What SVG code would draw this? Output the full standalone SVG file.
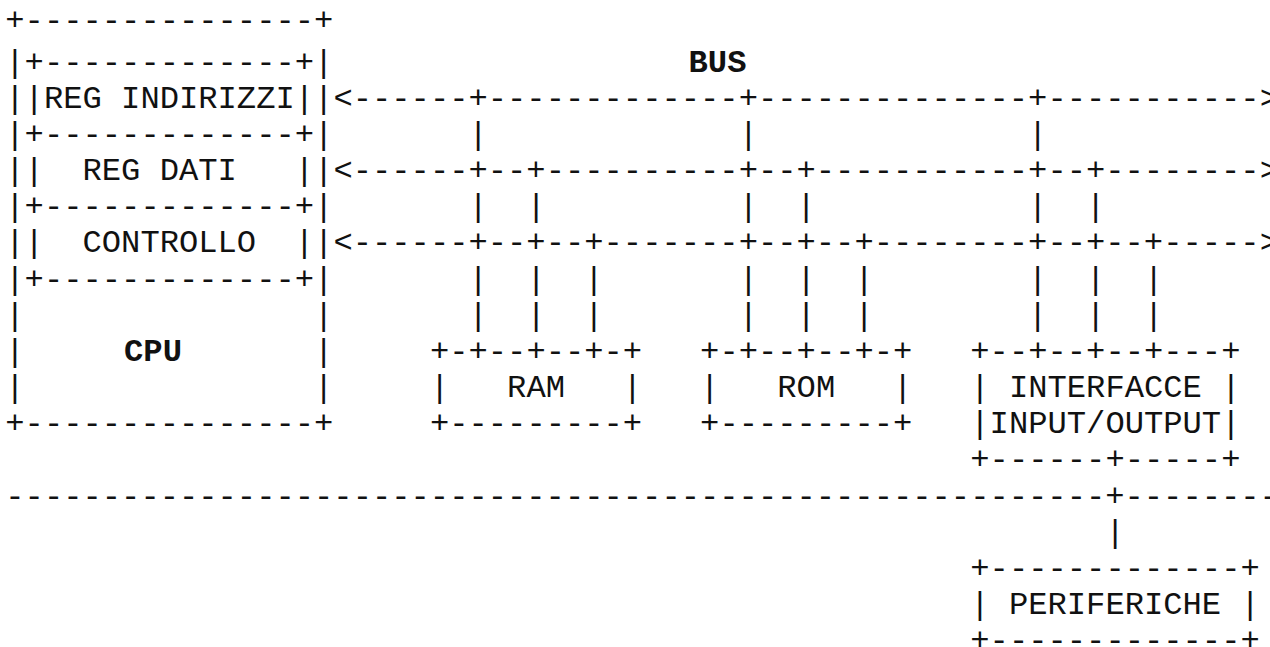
<svg xmlns="http://www.w3.org/2000/svg" width="1270" height="647" viewBox="0 0 1270 647" xml:space="preserve">
<style>
text { font-family: "Liberation Mono", "Courier New", monospace; font-size: 32.17px; white-space: pre; fill: #111; }
.b { font-weight: bold; text-anchor: middle; }
</style>
<rect width="1270" height="647" fill="#fff"/>
<g id="cpu">
<text x="5.3" y="30.2">+---------------+</text>
<text x="5.3" y="71.5">|+-------------+|</text>
<g id="reg-indirizzi"><text x="5.3" y="107.7">||REG INDIRIZZI||</text></g>
<text x="5.3" y="143.8">|+-------------+|</text>
<g id="reg-dati"><text x="5.3" y="180.0">||  REG DATI   ||</text></g>
<text x="5.3" y="216.2">|+-------------+|</text>
<g id="controllo"><text x="5.3" y="252.4">||  CONTROLLO  ||</text></g>
<text x="5.3" y="288.5">|+-------------+|</text>
<text x="5.3" y="324.7">|               |</text>
<text x="5.3" y="360.9">|</text>
<text x="314.1" y="360.9">|</text>
<text x="5.3" y="397.0">|               |</text>
<text x="5.3" y="433.2">+---------------+</text>
<text class="b" x="153" y="360.9">CPU</text>
</g>
<g id="bus-label">
<text class="b" x="717.5" y="71.5">BUS</text>
</g>
<g id="connectors">
<text x="333.4" y="107.7">&lt;------+-------------+--------------+-----------&gt;</text>
<text x="468.5" y="143.8">|             |              |</text>
<text x="333.4" y="180.0">&lt;------+--+----------+--+-----------+--+--------&gt;</text>
<text x="468.5" y="216.2">|  |          |  |           |  |</text>
<text x="333.4" y="252.4">&lt;------+--+--+-------+--+--+--------+--+--+-----&gt;</text>
<text x="468.5" y="288.5">|  |  |       |  |  |        |  |  |</text>
<text x="468.5" y="324.7">|  |  |       |  |  |        |  |  |</text>
<text x="5.3" y="505.5">---------------------------------------------------------+--------</text>
<text x="1105.4" y="541.7">|</text>
</g>
<g id="ram">
<text x="429.9" y="360.9">+-+--+--+-+</text>
<text x="429.9" y="397.0">|   RAM   |</text>
<text x="429.9" y="433.2">+---------+</text>
</g>
<g id="rom">
<text x="700.1" y="360.9">+-+--+--+-+</text>
<text x="700.1" y="397.0">|   ROM   |</text>
<text x="700.1" y="433.2">+---------+</text>
</g>
<g id="interfacce">
<text x="970.3" y="360.9">+--+--+--+---+</text>
<text x="970.3" y="397.0">| INTERFACCE |</text>
<text x="970.3" y="433.2">|INPUT/OUTPUT|</text>
<text x="970.3" y="469.4">+------+-----+</text>
</g>
<g id="periferiche">
<text x="970.3" y="577.9">+-------------+</text>
<text x="970.3" y="614.0">| PERIFERICHE |</text>
<text x="970.3" y="650.2">+-------------+</text>
</g>
</svg>
